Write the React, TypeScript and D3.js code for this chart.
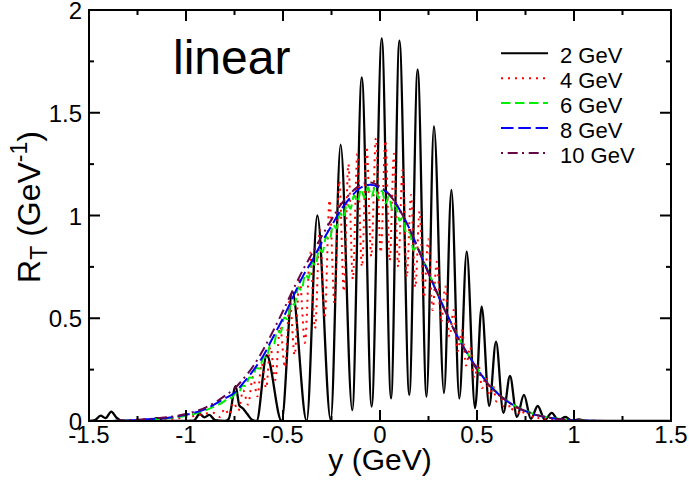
import * as d3 from "d3";

type Pt = [number, number];

// R_T vs y for several pT values
const gev2: Pt[] = [
  [-1.5, 0], [-1.47, 0.004], [-1.44, 0.026], [-1.415, 0.014], [-1.385, 0.046], [-1.36, 0.018],
  [-1.33, 0.002], [-1.25, 0], [-1.18, 0.002], [-1.15, 0.014], [-1.12, 0.002], [-1.05, 0],
  [-0.96, 0.002], [-0.93, 0.034], [-0.905, 0.018], [-0.88, 0.03], [-0.85, 0.004], [-0.8, 0],
  [-0.78, 0.01], [-0.744, 0.17], [-0.725, 0.075], [-0.705, 0.06], [-0.685, 0.035], [-0.66, 0.006],
  [-0.636, 0], [-0.584, 0.32], [-0.507, 0], [-0.452, 0.63], [-0.378, 0], [-0.323, 1.0],
  [-0.254, 0.004], [-0.203, 1.345], [-0.143, 0.053], [-0.094, 1.672], [-0.043, 0.07], [0.009, 1.862],
  [0.057, 0.11], [0.1, 1.851], [0.151, 0.127], [0.194, 1.711], [0.24, 0.118], [0.278, 1.435],
  [0.33, 0.136], [0.368, 1.124], [0.409, 0.11], [0.447, 0.824], [0.49, 0.063], [0.524, 0.556],
  [0.563, 0.073], [0.598, 0.386], [0.636, 0.04], [0.67, 0.219], [0.706, 0.02], [0.742, 0.127],
  [0.778, 0.01], [0.813, 0.073], [0.85, 0.005], [0.885, 0.04], [0.92, 0.002], [0.955, 0.02],
  [0.99, 0], [1.025, 0.008], [1.06, 0], [1.5, 0],
];

const gev4: Pt[] = [
  [-1.4, 0], [-1.2, 0.003], [-1.1, 0.008], [-1.0, 0.018], [-0.95, 0.026], [-0.9, 0.036], [-0.86, 0.04],
  [-0.825, 0.02], [-0.8, 0.06], [-0.778, 0.03], [-0.755, 0.09], [-0.73, 0.05], [-0.705, 0.15],
  [-0.68, 0.08], [-0.655, 0.215], [-0.632, 0.12], [-0.61, 0.28], [-0.587, 0.16], [-0.565, 0.36],
  [-0.54, 0.2], [-0.515, 0.46], [-0.49, 0.26], [-0.465, 0.59], [-0.44, 0.32], [-0.415, 0.7],
  [-0.387, 0.38], [-0.36, 0.82], [-0.335, 0.45], [-0.31, 0.93], [-0.285, 0.5], [-0.26, 1.075],
  [-0.235, 0.575], [-0.21, 1.17], [-0.186, 0.63], [-0.163, 1.25], [-0.14, 0.69], [-0.117, 1.3],
  [-0.093, 0.75], [-0.069, 1.335], [-0.045, 0.8], [-0.021, 1.376], [0.004, 0.82], [0.028, 1.365],
  [0.05, 0.78], [0.072, 1.3], [0.094, 0.75], [0.116, 1.22], [0.138, 0.7], [0.16, 1.1],
  [0.182, 0.65], [0.204, 1.02], [0.226, 0.6], [0.249, 0.885], [0.271, 0.54], [0.293, 0.775],
  [0.315, 0.48], [0.337, 0.655], [0.358, 0.41], [0.38, 0.54], [0.4, 0.34], [0.423, 0.44],
  [0.444, 0.27], [0.465, 0.36], [0.486, 0.21], [0.507, 0.28], [0.526, 0.16], [0.545, 0.215],
  [0.564, 0.125], [0.583, 0.17], [0.6, 0.095], [0.62, 0.13], [0.638, 0.07], [0.657, 0.1],
  [0.675, 0.05], [0.694, 0.075], [0.712, 0.038], [0.73, 0.055], [0.748, 0.028], [0.766, 0.04],
  [0.783, 0.02], [0.8, 0.028], [0.82, 0.013], [0.85, 0.012], [0.9, 0.007], [1.0, 0.003],
  [1.1, 0.001], [1.2, 0],
];

const gev6: Pt[] = [
  [-1.4, 0], [-1.2, 0.006], [-1.1, 0.013], [-1.0, 0.026], [-0.95, 0.036], [-0.9, 0.052],
  [-0.85, 0.072], [-0.8, 0.098], [-0.782, 0.114], [-0.764, 0.112], [-0.746, 0.135], [-0.728, 0.135],
  [-0.71, 0.172], [-0.692, 0.17], [-0.674, 0.212], [-0.656, 0.21], [-0.638, 0.259], [-0.62, 0.255],
  [-0.602, 0.309], [-0.584, 0.31], [-0.566, 0.372], [-0.548, 0.37], [-0.53, 0.438], [-0.512, 0.43],
  [-0.494, 0.504], [-0.476, 0.495], [-0.458, 0.576], [-0.44, 0.565], [-0.422, 0.648], [-0.404, 0.637],
  [-0.386, 0.714], [-0.368, 0.696], [-0.35, 0.772], [-0.332, 0.757], [-0.314, 0.837], [-0.296, 0.822],
  [-0.278, 0.897], [-0.26, 0.879], [-0.242, 0.955], [-0.224, 0.937], [-0.206, 1.012], [-0.188, 0.99],
  [-0.17, 1.058], [-0.152, 1.033], [-0.134, 1.097], [-0.116, 1.066], [-0.098, 1.128], [-0.08, 1.086],
  [-0.062, 1.138], [-0.044, 1.093], [-0.026, 1.136], [-0.008, 1.084], [0.01, 1.12], [0.028, 1.059],
  [0.046, 1.095], [0.064, 1.025], [0.082, 1.05], [0.1, 0.975], [0.118, 0.99], [0.136, 0.91],
  [0.154, 0.918], [0.172, 0.832], [0.19, 0.845], [0.22, 0.79], [0.25, 0.725], [0.3, 0.615],
  [0.35, 0.51], [0.4, 0.415], [0.45, 0.33], [0.5, 0.257], [0.55, 0.193], [0.6, 0.142],
  [0.65, 0.102], [0.7, 0.072], [0.75, 0.05], [0.8, 0.032], [0.85, 0.021], [0.9, 0.013],
  [0.95, 0.008], [1.0, 0.004], [1.1, 0.001], [1.2, 0],
];

const gev8: Pt[] = [
  [-1.4, 0], [-1.3, 0.003], [-1.2, 0.008], [-1.1, 0.015], [-1.0, 0.03], [-0.9, 0.058],
  [-0.8, 0.11], [-0.75, 0.138], [-0.7, 0.19], [-0.65, 0.25], [-0.6, 0.32], [-0.55, 0.41],
  [-0.5, 0.5], [-0.45, 0.6], [-0.4, 0.7], [-0.35, 0.78], [-0.3, 0.87], [-0.25, 0.95],
  [-0.2, 1.03], [-0.15, 1.09], [-0.1, 1.135], [-0.05, 1.15], [0, 1.135], [0.05, 1.1],
  [0.1, 1.03], [0.15, 0.94], [0.2, 0.83], [0.25, 0.72], [0.3, 0.61], [0.35, 0.51],
  [0.4, 0.41], [0.45, 0.33], [0.5, 0.255], [0.55, 0.19], [0.6, 0.14], [0.65, 0.1],
  [0.7, 0.07], [0.75, 0.048], [0.8, 0.03], [0.85, 0.02], [0.9, 0.012], [0.95, 0.007],
  [1.0, 0.004], [1.1, 0.001], [1.2, 0],
];

const gev10: Pt[] = [
  [-1.4, 0], [-1.3, 0.004], [-1.2, 0.009], [-1.1, 0.018], [-1.0, 0.034], [-0.9, 0.065],
  [-0.8, 0.122], [-0.75, 0.158], [-0.7, 0.21], [-0.65, 0.272], [-0.6, 0.35], [-0.55, 0.44],
  [-0.5, 0.535], [-0.45, 0.635], [-0.4, 0.73], [-0.35, 0.815], [-0.3, 0.9], [-0.25, 0.98],
  [-0.2, 1.055], [-0.15, 1.11], [-0.1, 1.15], [-0.05, 1.16], [0, 1.14], [0.05, 1.1],
  [0.1, 1.03], [0.15, 0.94], [0.2, 0.83], [0.25, 0.72], [0.3, 0.61], [0.35, 0.505],
  [0.4, 0.41], [0.45, 0.325], [0.5, 0.25], [0.55, 0.188], [0.6, 0.138], [0.65, 0.1],
  [0.7, 0.07], [0.75, 0.048], [0.8, 0.031], [0.85, 0.02], [0.9, 0.012], [0.95, 0.007],
  [1.0, 0.004], [1.1, 0.001], [1.2, 0],
];

const legendLabels = ["2 GeV", "4 GeV", "6 GeV", "8 GeV", "10 GeV"];
const xMajor = [-1.5, -1, -0.5, 0, 0.5, 1, 1.5];
const xMajorLabels = ["-1.5", "-1", "-0.5", "0", "0.5", "1", "1.5"];
const xMinor = [-1.25, -0.75, -0.25, 0.25, 0.75, 1.25];
const yMajor = [0, 0.5, 1, 1.5, 2];
const yMajorLabels = ["0", "0.5", "1", "1.5", "2"];
const yMinor = [0.25, 0.75, 1.25, 1.75];

const W = 689;
const H = 485;
const plot = { left: 89, right: 671, top: 10, bottom: 421 };
const FONT = "'Liberation Sans', Arial, Helvetica, sans-serif";

const styles = [
  { color: "#000000", width: 2.3, dash: undefined as string | undefined },
  { color: "#ff0000", width: 2, dash: "2,5" },
  { color: "#00ee00", width: 2, dash: "9.5,4.5" },
  { color: "#0000ff", width: 2, dash: "12.5,4.8" },
  { color: "#670748", width: 2, dash: "2,4.7,10,4.3" },
];

export default function App() {
  const x = d3.scaleLinear().domain([-1.5, 1.5]).range([plot.left, plot.right]);
  const y = d3.scaleLinear().domain([0, 2]).range([plot.bottom, plot.top]);
  const line = d3
    .line<Pt>()
    .x((d) => x(d[0]))
    .y((d) => y(d[1]))
    .curve(d3.curveMonotoneX);

  const allSeries = [gev2, gev4, gev6, gev8, gev10];
  const major = 11;
  const minor = 5;

  return (
    <svg
      width={W}
      height={H}
      viewBox={`0 0 ${W} ${H}`}
      style={{ position: "absolute", left: 0, top: 0, background: "#fff" }}
      fontFamily={FONT}
    >
      <defs>
        <clipPath id="plotClip">
          <rect x={plot.left} y={plot.top} width={plot.right - plot.left} height={plot.bottom - plot.top} />
        </clipPath>
      </defs>

      {/* curves */}
      <g clipPath="url(#plotClip)" fill="none" strokeLinejoin="round">
        {allSeries.map((s, i) => (
          <path
            key={i}
            d={line(s) ?? ""}
            stroke={styles[i].color}
            strokeWidth={styles[i].width}
            strokeDasharray={styles[i].dash}
          />
        ))}
      </g>

      {/* ticks, pointing inward on all four sides */}
      <g stroke="#000" strokeWidth={2}>
        {xMajor.map((v) => (
          <g key={`xM${v}`}>
            <line x1={x(v)} x2={x(v)} y1={plot.bottom} y2={plot.bottom - major} />
            <line x1={x(v)} x2={x(v)} y1={plot.top} y2={plot.top + major} />
          </g>
        ))}
        {xMinor.map((v) => (
          <g key={`xm${v}`}>
            <line x1={x(v)} x2={x(v)} y1={plot.bottom} y2={plot.bottom - minor} />
            <line x1={x(v)} x2={x(v)} y1={plot.top} y2={plot.top + minor} />
          </g>
        ))}
        {yMajor.map((v) => (
          <g key={`yM${v}`}>
            <line x1={plot.left} x2={plot.left + major} y1={y(v)} y2={y(v)} />
            <line x1={plot.right} x2={plot.right - major} y1={y(v)} y2={y(v)} />
          </g>
        ))}
        {yMinor.map((v) => (
          <g key={`ym${v}`}>
            <line x1={plot.left} x2={plot.left + minor} y1={y(v)} y2={y(v)} />
            <line x1={plot.right} x2={plot.right - minor} y1={y(v)} y2={y(v)} />
          </g>
        ))}
      </g>

      {/* frame */}
      <rect
        x={plot.left}
        y={plot.top}
        width={plot.right - plot.left}
        height={plot.bottom - plot.top}
        fill="none"
        stroke="#000"
        strokeWidth={2}
      />

      {/* tick labels */}
      <g fontSize={24} fill="#000">
        {xMajor.map((v, i) => (
          <text key={`xl${v}`} x={x(v)} y={plot.bottom + 22} textAnchor="middle">
            {xMajorLabels[i]}
          </text>
        ))}
        {yMajor.map((v, i) => (
          <text key={`yl${v}`} x={plot.left - 7} y={y(v) + 9} textAnchor="end">
            {yMajorLabels[i]}
          </text>
        ))}
      </g>

      {/* axis titles */}
      <text x={x(0)} y={470} fontSize={30} textAnchor="middle">
        y (GeV)
      </text>
      <text transform="translate(40, 207) rotate(-90)" fontSize={32} textAnchor="middle">
        R<tspan fontSize={23} dy={7}>T</tspan>
        <tspan dy={-7}> (GeV</tspan>
        <tspan fontSize={23} dy={-13}>-1</tspan>
        <tspan dy={13}>)</tspan>
      </text>

      {/* annotation */}
      <text x={173} y={74} fontSize={48}>
        linear
      </text>

      {/* legend */}
      <g>
        {legendLabels.map((lab, i) => {
          const ly = 53.3 + i * 24.9;
          return (
            <g key={lab}>
              <line
                x1={501}
                x2={548}
                y1={ly}
                y2={ly}
                stroke={styles[i].color}
                strokeWidth={2}
                strokeDasharray={styles[i].dash}
              />
              <text x={560} y={ly + 10} fontSize={22}>
                {lab}
              </text>
            </g>
          );
        })}
      </g>
    </svg>
  );
}
